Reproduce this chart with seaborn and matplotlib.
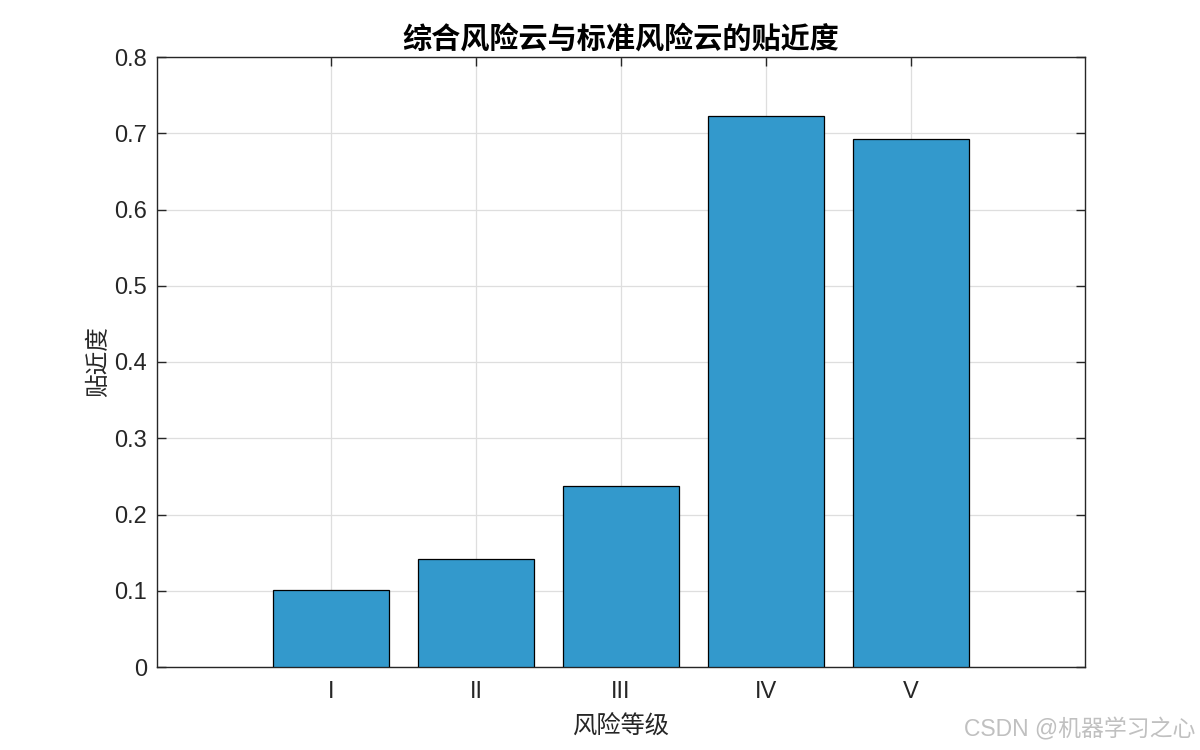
import matplotlib
matplotlib.use("Agg")
import matplotlib.pyplot as plt
import seaborn as sns
import pandas as pd

levels = ["I", "II", "III", "IV", "V"]
closeness = [0.101, 0.142, 0.238, 0.722, 0.693]
yticks = [0, 0.1, 0.2, 0.3, 0.4, 0.5, 0.6, 0.7, 0.8]
ytick_labels = ["0", "0.1", "0.2", "0.3", "0.4", "0.5", "0.6", "0.7", "0.8"]

title = "综合风险云与标准风险云的贴近度"
xlabel = "风险等级"
ylabel = "贴近度"
watermark = "CSDN @机器学习之心"

sns.set_theme(style="white")
plt.rcParams['font.family'] = ['Liberation Sans', 'Noto Sans CJK SC', 'DejaVu Sans']

df = pd.DataFrame({"level": levels, "value": closeness})

fig = plt.figure(figsize=(12, 7.5), dpi=100)
ax = fig.add_axes([157/1200, 1 - 667/750, (1085-157)/1200, (667-57)/750])

sns.barplot(data=df, x="level", y="value", order=levels, ax=ax,
            color="#3399cc", saturation=1, width=0.8,
            edgecolor="black", linewidth=0.9, zorder=3)
for p in ax.patches:
    p.set_facecolor("#3399cc")

ax.set_xlim(-1.2, 4 + 1.2)
ax.set_ylim(0, 0.8)
ax.set_yticks(yticks)
ax.set_yticklabels(ytick_labels)

ax.grid(True, color="#dedede", linewidth=0.9, zorder=0)
ax.set_axisbelow(True)

ax.tick_params(axis="both", direction="in", length=6.5, width=1, color="#262626",
               labelsize=17, labelcolor="#262626", top=True, right=True,
               left=True, bottom=True)
ax.tick_params(axis="x", pad=10)
ax.tick_params(axis="y", pad=7)
for s in ax.spines.values():
    s.set_visible(True)
    s.set_color("#262626")
    s.set_linewidth(1)

cjk = ['Noto Sans CJK SC', 'DejaVu Sans']
ax.set_title(title, fontsize=21, fontweight="bold", family=cjk, color="black", pad=7)
ax.set_xlabel(xlabel, fontsize=17.5, family=cjk, color="#262626", labelpad=8)
ax.set_ylabel(ylabel, fontsize=17, family=cjk, color="#262626", labelpad=3)

fig.text(0.996, 0.027, watermark, ha="right", va="center", fontsize=16.5,
         color="#c0c0c0", family=['Liberation Sans', 'Noto Sans CJK SC', 'DejaVu Sans'])

fig.savefig("out.png", dpi=100)
